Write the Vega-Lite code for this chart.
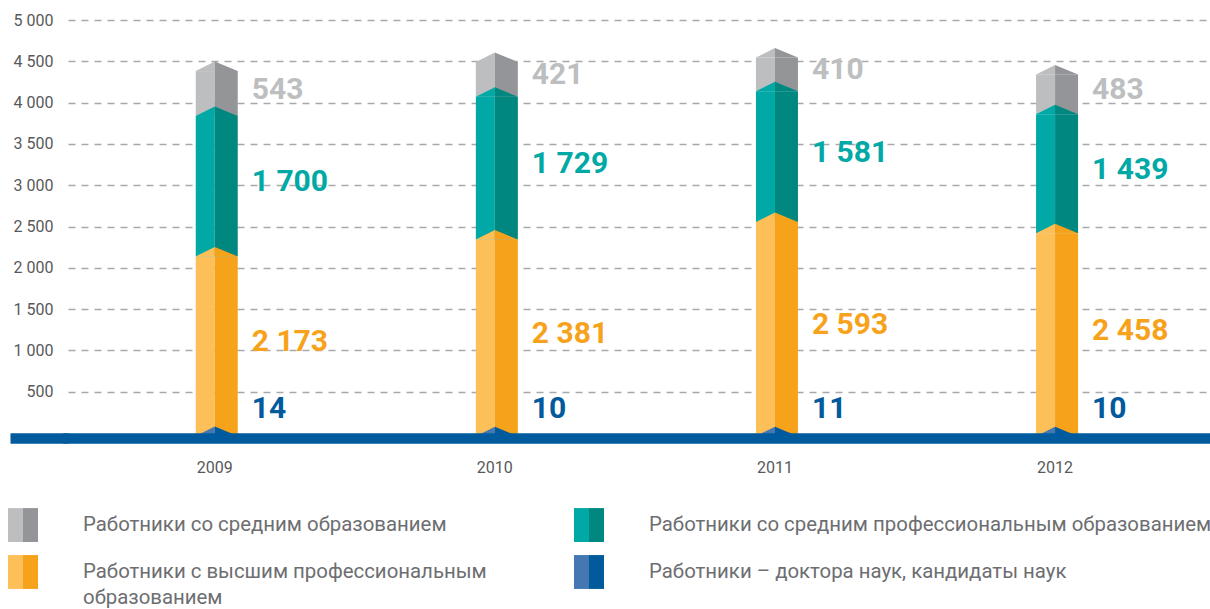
{
  "$schema": "https://vega.github.io/schema/vega-lite/v6.json",
  "width": 1142,
  "height": 418,
  "autosize": {"type": "none"},
  "padding": {"left": 68, "top": 20, "right": 0, "bottom": 171},
  "config": {
    "view": {"stroke": null},
    "font": "Roboto",
    "locale": {"number": {"decimal": ",", "thousands": " ", "grouping": [3], "currency": ["", ""]}}
  },
  "data": {
    "values": [
      {"year": "2009", "cat": "Работники со средним образованием", "value": 543},
      {"year": "2009", "cat": "Работники со средним профессиональным образованием", "value": 1700},
      {"year": "2009", "cat": "Работники с высшим профессиональным образованием", "value": 2173},
      {"year": "2009", "cat": "Работники – доктора наук, кандидаты наук", "value": 14},
      {"year": "2010", "cat": "Работники со средним образованием", "value": 421},
      {"year": "2010", "cat": "Работники со средним профессиональным образованием", "value": 1729},
      {"year": "2010", "cat": "Работники с высшим профессиональным образованием", "value": 2381},
      {"year": "2010", "cat": "Работники – доктора наук, кандидаты наук", "value": 10},
      {"year": "2011", "cat": "Работники со средним образованием", "value": 410},
      {"year": "2011", "cat": "Работники со средним профессиональным образованием", "value": 1581},
      {"year": "2011", "cat": "Работники с высшим профессиональным образованием", "value": 2593},
      {"year": "2011", "cat": "Работники – доктора наук, кандидаты наук", "value": 11},
      {"year": "2012", "cat": "Работники со средним образованием", "value": 483},
      {"year": "2012", "cat": "Работники со средним профессиональным образованием", "value": 1439},
      {"year": "2012", "cat": "Работники с высшим профессиональным образованием", "value": 2458},
      {"year": "2012", "cat": "Работники – доктора наук, кандидаты наук", "value": 10}
    ]
  },
  "transform": [
    {"calculate": "indexof(['Работники – доктора наук, кандидаты наук', 'Работники с высшим профессиональным образованием', 'Работники со средним профессиональным образованием', 'Работники со средним образованием'], datum.cat)", "as": "ord"},
    {"stack": "value", "groupby": ["year"], "sort": [{"field": "ord", "order": "ascending"}], "as": ["v0", "v1"]},
    {"calculate": "(datum.v0 + datum.v1) / 2", "as": "mid"}
  ],
  "encoding": {
    "x": {
      "field": "year", "type": "ordinal",
      "scale": {"paddingInner": 0, "paddingOuter": 0.0385, "align": 0.31},
      "axis": {"title": null, "labelAngle": 0, "ticks": false, "domainColor": "#005b9e", "domainWidth": 10.5, "domainCap": "square", "labelFontSize": 16, "labelColor": "#58595b", "labelPadding": 21, "zindex": 1}
    }
  },
  "layer": [
    {
      "mark": {"type": "bar", "width": 19, "xOffset": -9.5, "yOffset": 4, "y2Offset": 4},
      "encoding": {
        "y": {
          "field": "v1", "type": "quantitative",
          "scale": {"domain": [-60, 5000], "nice": false, "zero": false},
          "axis": {
            "title": null,
            "values": [-60, 500, 1000, 1500, 2000, 2500, 3000, 3500, 4000, 4500, 5000],
            "format": ",d",
            "domain": false,
            "grid": true,
            "gridDash": [7, 6],
            "gridWidth": 1.5,
            "gridColor": {"condition": {"test": "datum.value < 0", "value": "transparent"}, "value": "#a7a9ac"},
            "tickSize": 58,
            "tickWidth": 10.5,
            "tickColor": {"condition": {"test": "datum.value < 0", "value": "#005b9e"}, "value": "transparent"},
            "labelExpr": "datum.value < 0 ? '' : datum.label",
            "labelPadding": -43,
            "labelFontSize": 16,
            "labelColor": "#58595b"
          }
        },
        "y2": {"field": "v0"},
        "color": {
          "field": "cat", "type": "nominal",
          "scale": {
            "domain": ["Работники со средним образованием", "Работники с высшим профессиональным образованием", "Работники со средним профессиональным образованием", "Работники – доктора наук, кандидаты наук"],
            "range": ["#bcbec0", "#fdbf57", "#00a9a5", "#4578b3"]
          },
          "legend": {
            "title": null, "orient": "none", "legendX": -60, "legendY": 490, "columns": 2,
            "symbolType": "M-1,-1.13L0,-1.13L0,1.13L-1,1.13Z", "symbolSize": 900, "symbolStrokeWidth": 0, "symbolOpacity": 1,
            "labelFontSize": 20.4, "labelColor": "#6d6e71", "labelOffset": 45, "labelLimit": 700,
            "columnPadding": 87, "rowPadding": 13,
            "labelExpr": "datum.label == 'Работники с высшим профессиональным образованием' ? ['Работники с высшим профессиональным', 'образованием'] : datum.label",
            "encode": {"labels": {"update": {"lineHeight": {"value": 26}}}}
          }
        }
      }
    },
    {
      "mark": {"type": "bar", "width": 23, "xOffset": 11.5, "yOffset": 4, "y2Offset": 4},
      "encoding": {
        "y": {"field": "v1", "type": "quantitative"},
        "y2": {"field": "v0"},
        "fill": {
          "field": "cat", "type": "nominal",
          "sort": ["Работники со средним образованием", "Работники с высшим профессиональным образованием", "Работники со средним профессиональным образованием", "Работники – доктора наук, кандидаты наук"],
          "scale": {"range": ["#939598", "#f7a21b", "#00877f", "#005a9c"]},
          "legend": {
            "title": null, "orient": "none", "legendX": -60, "legendY": 490, "columns": 2,
            "symbolType": "M0,-1.13L1,-1.13L1,1.13L0,1.13Z", "symbolSize": 900, "symbolStrokeWidth": 0, "symbolOpacity": 1,
            "labelFontSize": 20.4, "labelColor": "transparent", "labelOffset": 45, "labelLimit": 700,
            "columnPadding": 87, "rowPadding": 13,
            "labelExpr": "datum.label == 'Работники с высшим профессиональным образованием' ? ['Работники с высшим профессиональным', 'образованием'] : datum.label",
            "encode": {"labels": {"update": {"lineHeight": {"value": 26}}}}
          }
        }
      }
    },
    {
      "mark": {"type": "point", "filled": true, "opacity": 1, "strokeWidth": 0, "size": 400, "yOffset": 4, "shape": "M-1.9,0L0,-0.95L0,0Z"},
      "encoding": {
        "y": {"field": "v1", "type": "quantitative"},
        "color": {"field": "cat", "type": "nominal"}
      }
    },
    {
      "mark": {"type": "point", "filled": true, "opacity": 1, "strokeWidth": 0, "size": 400, "yOffset": 4, "shape": "M0,0L0,-0.95L2.3,0Z"},
      "encoding": {
        "y": {"field": "v1", "type": "quantitative"},
        "fill": {
          "field": "cat", "type": "nominal",
          "sort": ["Работники со средним образованием", "Работники с высшим профессиональным образованием", "Работники со средним профессиональным образованием", "Работники – доктора наук, кандидаты наук"]
        }
      }
    },
    {
      "transform": [{"filter": "datum.ord > 0"}],
      "mark": {"type": "text", "align": "left", "baseline": "middle", "dx": 37, "fontSize": 30, "fontWeight": "bold"},
      "encoding": {
        "y": {"field": "mid", "type": "quantitative"},
        "text": {"field": "value", "format": ",d"},
        "color": {
          "condition": [
            {"test": "datum.ord == 3", "value": "#bcbec0"},
            {"test": "datum.ord == 2", "value": "#00a9a5"}
          ],
          "value": "#f7a21b"
        }
      }
    },
    {
      "transform": [{"filter": "datum.ord == 0"}],
      "mark": {"type": "text", "align": "left", "baseline": "middle", "dx": 37, "dy": -23, "fontSize": 30, "fontWeight": "bold", "color": "#005a9c"},
      "encoding": {
        "y": {"field": "v1", "type": "quantitative"},
        "text": {"field": "value", "format": ",d"}
      }
    }
  ]
}
